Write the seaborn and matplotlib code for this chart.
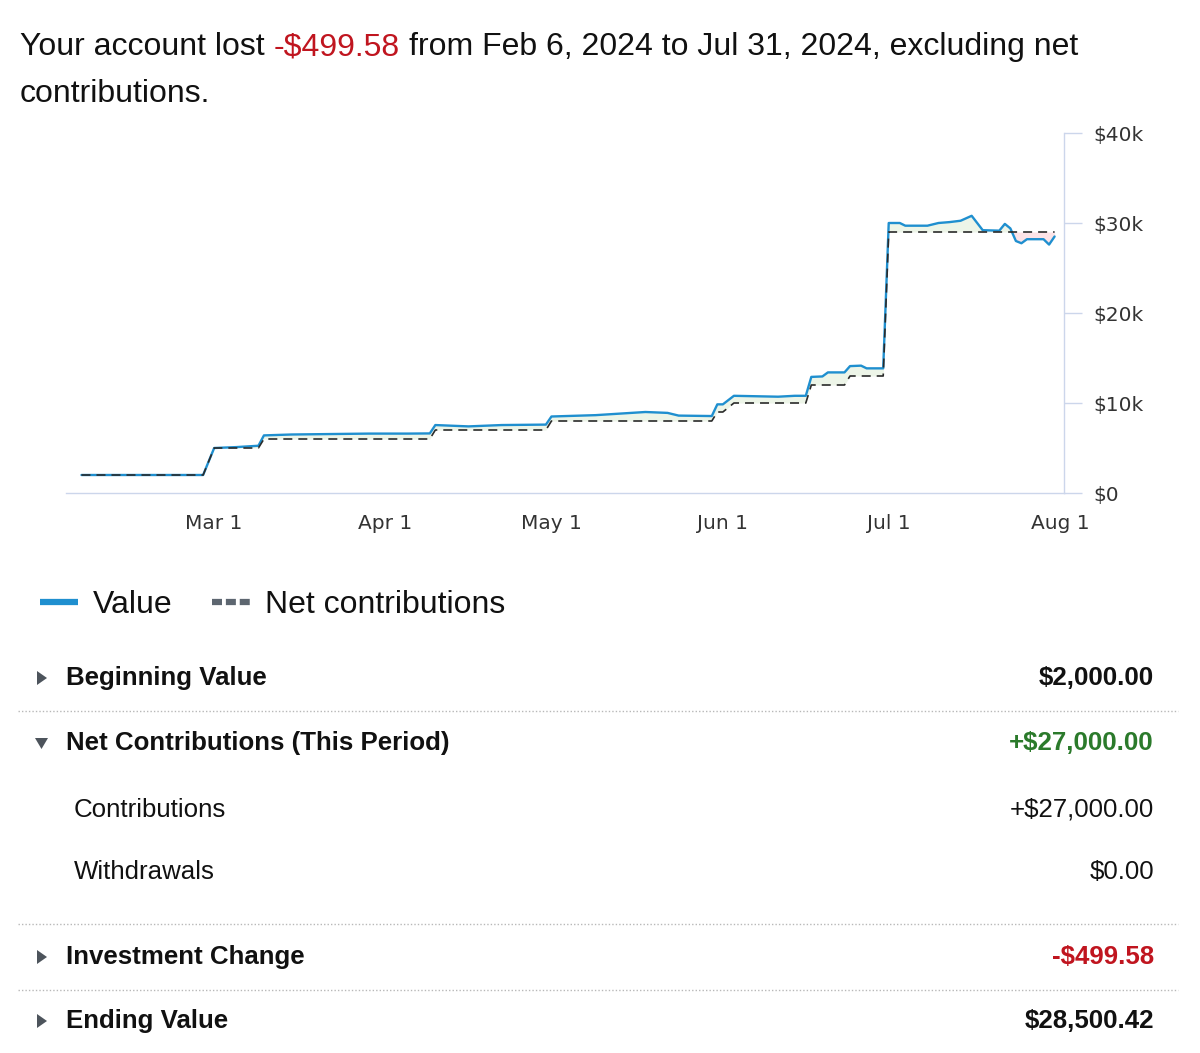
import pandas as pd
import numpy as np
import seaborn as sns
import matplotlib.pyplot as plt
import matplotlib.dates as mdates
from matplotlib.lines import Line2D
from matplotlib.patches import Polygon

# Daily snapshots (value and net contributions, in $)
dates = ['2024-02-06', '2024-02-28', '2024-03-01', '2024-03-05', '2024-03-09', '2024-03-10',
         '2024-03-15', '2024-03-22', '2024-03-29', '2024-04-05', '2024-04-09', '2024-04-10',
         '2024-04-16', '2024-04-22', '2024-04-30', '2024-05-01', '2024-05-09', '2024-05-18',
         '2024-05-22', '2024-05-24', '2024-05-30', '2024-05-31', '2024-06-01', '2024-06-03',
         '2024-06-07', '2024-06-11', '2024-06-14', '2024-06-16', '2024-06-17', '2024-06-19',
         '2024-06-20', '2024-06-23', '2024-06-24', '2024-06-26', '2024-06-27', '2024-06-30',
         '2024-07-01', '2024-07-03', '2024-07-04', '2024-07-08', '2024-07-10', '2024-07-12',
         '2024-07-14', '2024-07-16', '2024-07-18', '2024-07-21', '2024-07-22', '2024-07-23',
         '2024-07-24', '2024-07-25', '2024-07-26', '2024-07-29', '2024-07-30', '2024-07-31']
value = [2000, 2000, 5000, 5100, 5250, 6400,
         6500, 6550, 6600, 6600, 6620, 7550,
         7400, 7550, 7600, 8500, 8650, 9000,
         8900, 8600, 8550, 9850, 9850, 10800,
         10750, 10700, 10800, 10800, 12900, 12950,
         13400, 13400, 14100, 14150, 13850, 13850,
         30000, 30000, 29700, 29700, 30000, 30100,
         30250, 30800, 29200, 29150, 29900, 29400,
         28000, 27750, 28200, 28200, 27600, 28500]
contrib = [2000, 2000, 5000, 5000, 5000, 6000,
           6000, 6000, 6000, 6000, 6000, 7000,
           7000, 7000, 7000, 8000, 8000, 8000,
           8000, 8000, 8000, 9000, 9000, 10000,
           10000, 10000, 10000, 10000, 12000, 12000,
           12000, 12000, 13000, 13000, 13000, 13000,
           29000, 29000, 29000, 29000, 29000, 29000,
           29000, 29000, 29000, 29000, 29000, 29000,
           29000, 29000, 29000, 29000, 29000, 29000]

y_ticks = [0, 10000, 20000, 30000, 40000]
y_tick_labels = ['$0', '$10k', '$20k', '$30k', '$40k']
x_ticks = ['2024-03-01', '2024-04-01', '2024-05-01', '2024-06-01', '2024-07-01', '2024-08-01']
x_tick_labels = ['Mar 1', 'Apr 1', 'May 1', 'Jun 1', 'Jul 1', 'Aug 1']

row_labels = ['Beginning Value', 'Net Contributions (This Period)', 'Contributions',
              'Withdrawals', 'Investment Change', 'Ending Value']
row_amounts = ['$2,000.00', '+$27,000.00', '+$27,000.00', '$0.00', '-$499.58', '$28,500.42']

# colours
blue = '#1f8fcf'
dash_col = '#2b2b2b'
axis_col = '#ccd6eb'
red = '#c0151f'
green = '#2b7a2b'
arrow_col = '#4d545c'

sns.set_style('white')
plt.rcParams['font.family'] = ['Liberation Sans', 'DejaVu Sans']

W, H = 1200, 1053
fig = plt.figure(figsize=(W / 100, H / 100), dpi=100)


def fx(x):
    return x / W


def fy(y):
    return 1 - y / H


# --- chart ---
ax = fig.add_axes([fx(66), fy(493), fx(1064) - fx(66), fy(133) - fy(493)])
df = pd.DataFrame({'date': pd.to_datetime(dates), 'Value': value, 'Net contributions': contrib})

v = np.array(value)
c = np.array(contrib)
ax.fill_between(df['date'], v, c, where=v >= c, interpolate=True, color='#edf5e8', lw=0, zorder=1)
ax.fill_between(df['date'], v, c, where=v < c, interpolate=True, color='#fde3e7', lw=0, zorder=1)

sns.lineplot(data=df, x='date', y='Value', ax=ax, color=blue, lw=1.7, errorbar=None, zorder=3)
sns.lineplot(data=df, x='date', y='Net contributions', ax=ax, color=dash_col, lw=1.2,
             errorbar=None, zorder=4)
ax.lines[-1].set_dashes((5.4, 3.6))

mar1 = mdates.date2num(pd.Timestamp('2024-03-01'))
aug1 = mdates.date2num(pd.Timestamp('2024-08-01'))
ax.set_xlim(mar1 - 26.8, aug1 + 0.7)
ax.set_ylim(0, 40000)

ax.set_xticks(pd.to_datetime(x_ticks), x_tick_labels)
ax.yaxis.tick_right()
ax.set_yticks(y_ticks, y_tick_labels)
ax.set_xlabel('')
ax.set_ylabel('')
for side in ['left', 'top']:
    ax.spines[side].set_visible(False)
for side in ['right', 'bottom']:
    ax.spines[side].set_color(axis_col)
    ax.spines[side].set_linewidth(1)
ax.tick_params(axis='y', length=13, width=1, color=axis_col, pad=8, labelsize=14.5,
               labelcolor='#333333', labelfontfamily='DejaVu Sans')
ax.tick_params(axis='x', length=9, width=1, color=axis_col, pad=6, labelsize=14.5,
               labelcolor='#333333', labelfontfamily='DejaVu Sans')
ax.grid(False)

# --- header sentence with the red amount ---
renderer = fig.canvas.get_renderer()
head_size = 23
gap = 0.278 * head_size * 100 / 72
x = fx(20)
for s, col in [('Your account lost', '#111111'), ('-$499.58', red),
               ('from Feb 6, 2024 to Jul 31, 2024, excluding net', '#111111')]:
    t = fig.text(x, fy(55), s, color=col, fontsize=head_size, va='baseline', ha='left')
    bb = t.get_window_extent(renderer)
    x = (bb.x1 + gap) / W
fig.text(fx(20), fy(102), 'contributions.', color='#111111', fontsize=head_size, va='baseline')

# --- legend ---
fig.add_artist(Line2D([fx(40), fx(78)], [fy(602), fy(602)], transform=fig.transFigure,
                      color=blue, lw=4.5, solid_capstyle='butt'))
fig.text(fx(93), fy(613), 'Value', fontsize=head_size, color='#111111', va='baseline')
leg_dash = Line2D([fx(212), fx(251)], [fy(602), fy(602)], transform=fig.transFigure,
                  color='#5d6670', lw=4.5, dash_capstyle='butt')
leg_dash.set_dashes((1.6, 0.62))
fig.add_artist(leg_dash)
fig.text(fx(265), fy(613), 'Net contributions', fontsize=head_size, color='#111111', va='baseline')

# --- summary table ---
row_y = [678, 743, 810, 872, 957, 1021]
row_bold = [True, True, False, False, True, True]
row_x = [66, 66, 74, 74, 66, 66]
amount_cols = ['#111111', green, '#111111', '#111111', red, '#111111']
arrows = {0: 'right', 1: 'down', 4: 'right', 5: 'right'}
tsize = 18.6

for i, lab in enumerate(row_labels):
    w = 'bold' if row_bold[i] else 'normal'
    fig.text(fx(row_x[i]), fy(row_y[i]), lab, fontsize=tsize, fontweight=w,
             color='#111111', va='center', ha='left')
    fig.text(fx(1154), fy(row_y[i]), row_amounts[i], fontsize=tsize, fontweight=w,
             color=amount_cols[i], va='center', ha='right')
    yc = row_y[i]
    if arrows.get(i) == 'right':
        pts = [(fx(37), fy(yc - 7)), (fx(37), fy(yc + 7)), (fx(47), fy(yc))]
    elif arrows.get(i) == 'down':
        pts = [(fx(35), fy(yc - 5)), (fx(48), fy(yc - 5)), (fx(41.5), fy(yc + 6))]
    else:
        continue
    fig.add_artist(Polygon(pts, closed=True, transform=fig.transFigure,
                           facecolor=arrow_col, edgecolor='none'))

for yy in [711, 924, 990]:
    fig.add_artist(Line2D([fx(18), fx(1178)], [fy(yy), fy(yy)], transform=fig.transFigure,
                          color='#b8b8b8', lw=1, linestyle=(0, (1, 1.5))))

fig.savefig('out.png', dpi=100)
